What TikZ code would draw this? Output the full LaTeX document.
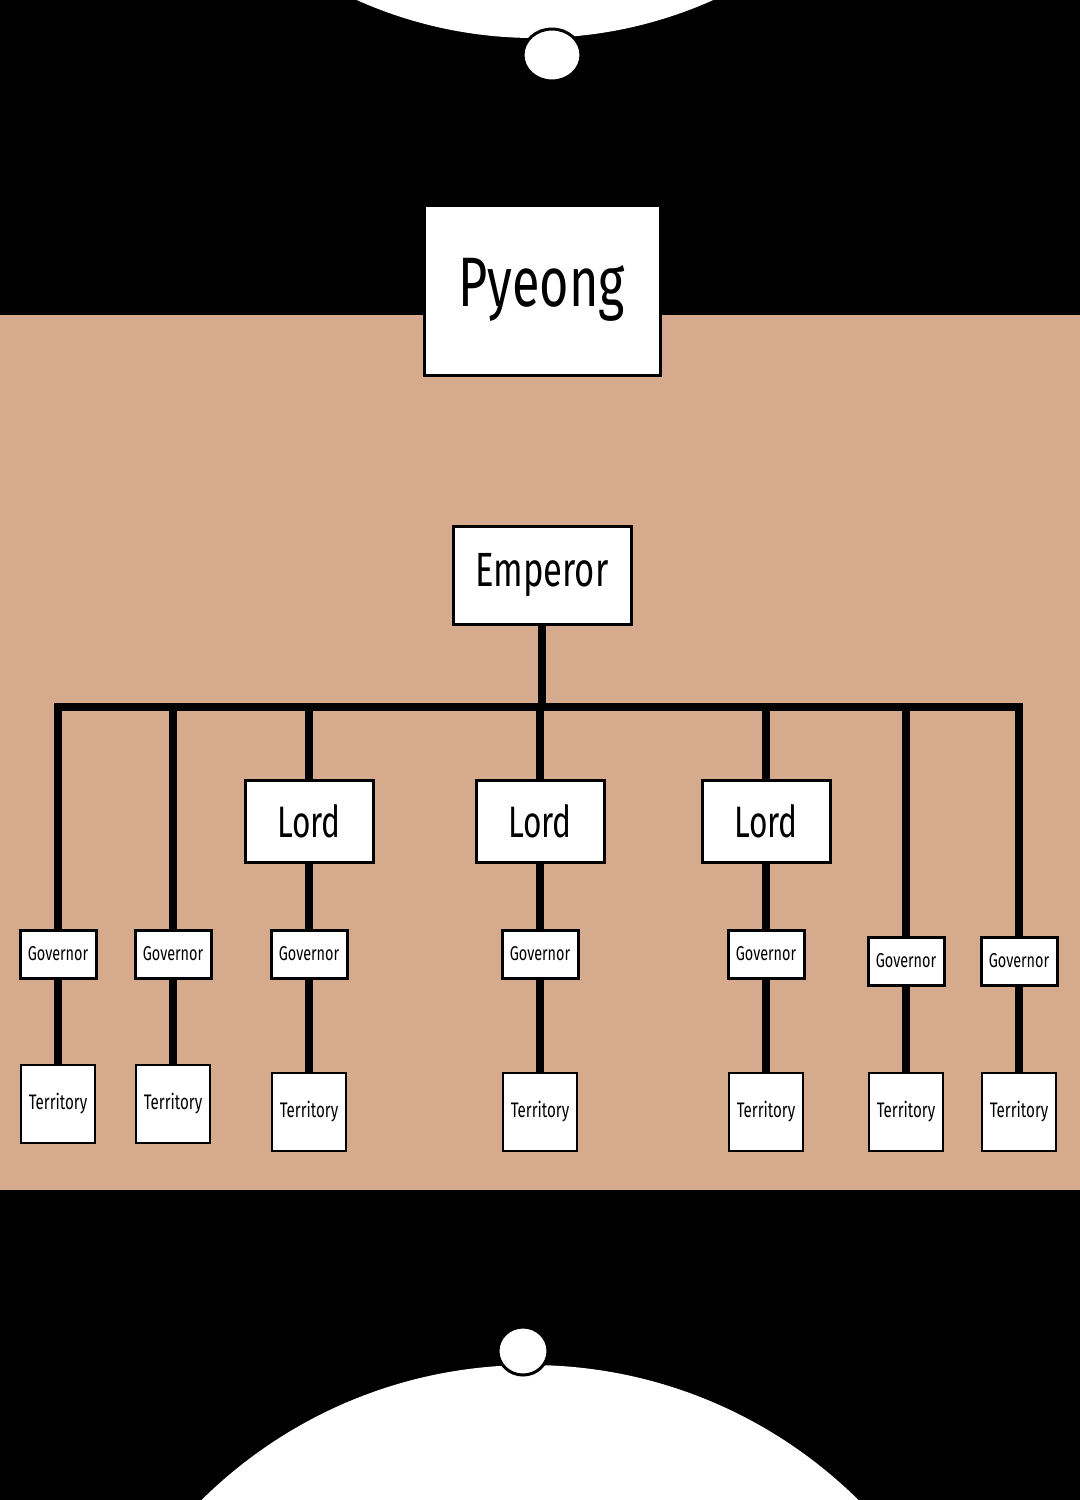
\documentclass[tikz,border=0pt]{standalone}
\usepackage{fontspec}
\newfontfamily\hand[FakeStretch=0.72]{Fira Sans}
\usetikzlibrary{positioning}
\definecolor{skin}{RGB}{213,170,141}

\begin{document}
\begin{tikzpicture}[
  x=0.5pt, y=-0.5pt,
  font=\hand,
  box/.style={rectangle, draw=black, line width=1.5pt, fill=white, inner sep=0pt},
  title/.style={box, minimum width=118pt, minimum height=85pt,
                font=\hand\fontsize{35pt}{35pt}\selectfont},
  chief/.style={box, minimum width=89pt, minimum height=49pt,
                font=\hand\fontsize{24pt}{24pt}\selectfont},
  lord/.style={box, minimum width=64pt, minimum height=41pt,
               font=\hand\fontsize{22pt}{22pt}\selectfont},
  gov/.style={box, minimum width=38pt, minimum height=24pt,
              font=\hand\fontsize{10pt}{10pt}\selectfont},
  land/.style={box, line width=1pt, minimum width=37pt, minimum height=39pt,
               font=\hand\fontsize{10.5pt}{10.5pt}\selectfont},
  link/.style={draw=black, line width=4pt, line join=miter},
  blob/.style={fill=white, draw=black, line width=1.5pt}
]
\clip (0,0) rectangle (1080,1500);

% background
\fill[black] (0,0) rectangle (1080,1500);
\fill[skin] (0,315) rectangle (1080,1190);

% top and bottom discs
\fill[white] (535,-398) circle [radius=436];
\draw[blob] (552,55) ellipse [x radius=29, y radius=26];
\fill[white] (530,1832) circle [radius=467];
\draw[blob] (523,1351) ellipse [x radius=25, y radius=24];

% title and emperor
\node[title] (pyeong) at (542,290) {Pyeong};
\node[chief] (emperor) at (542,575) {Emperor};

% lords
\node[lord] (l1) at (309,821) {Lord};
\node[lord] (l2) at (540,821) {Lord};
\node[lord] (l3) at (766,821) {Lord};

% governors
\node[gov] (g1) at (58,954) {Governor};
\node[gov] (g2) at (173,954) {Governor};
\node[gov] (g3) at (309,954) {Governor};
\node[gov] (g4) at (540,954) {Governor};
\node[gov] (g5) at (766,954) {Governor};
\node[gov] (g6) at (906,961) {Governor};
\node[gov] (g7) at (1019,961) {Governor};

% territories
\node[land] (r1) at (58,1104) {Territory};
\node[land] (r2) at (173,1104) {Territory};
\node[land] (r3) at (309,1112) {Territory};
\node[land] (r4) at (540,1112) {Territory};
\node[land] (r5) at (766,1112) {Territory};
\node[land] (r6) at (906,1112) {Territory};
\node[land] (r7) at (1019,1112) {Territory};

% bar
\coordinate (t2) at (173,707);
\coordinate (t3) at (309,707);
\coordinate (t4) at (540,707);
\coordinate (t5) at (766,707);
\coordinate (t6) at (906,707);
\coordinate (t7) at (1019,707);
\draw[link] (g1) |- (t7) -- (g7);
\draw[link] (emperor) -- (emperor |- t4);

\draw[link] (t2) -- (g2);
\draw[link] (t3) -- (l1);
\draw[link] (t4) -- (l2);
\draw[link] (t5) -- (l3);
\draw[link] (t6) -- (g6);

\draw[link] (l1) -- (g3);
\draw[link] (l2) -- (g4);
\draw[link] (l3) -- (g5);

\draw[link] (g1) -- (r1);
\draw[link] (g2) -- (r2);
\draw[link] (g3) -- (r3);
\draw[link] (g4) -- (r4);
\draw[link] (g5) -- (r5);
\draw[link] (g6) -- (r6);
\draw[link] (g7) -- (r7);
\end{tikzpicture}
\end{document}
